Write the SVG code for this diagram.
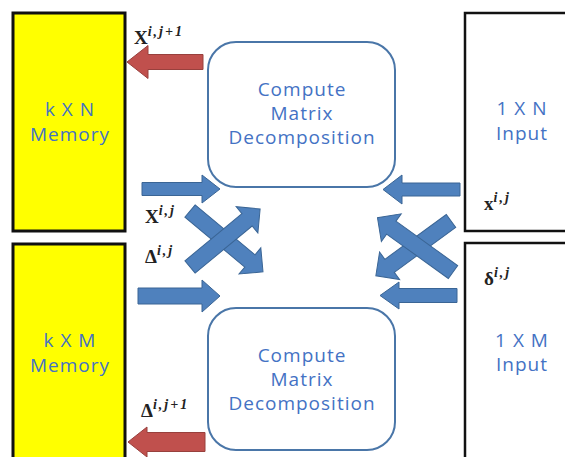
<svg xmlns="http://www.w3.org/2000/svg" width="565" height="457" viewBox="0 0 565 457">
<style>
.mem{fill:#ffff00;stroke:#111;stroke-width:3}
.inp{fill:#fff;stroke:#111;stroke-width:2.5}
.cmp{fill:#fff;stroke:#4a76a8;stroke-width:2}
.t{font-family:"Open Sans","Liberation Sans",sans-serif;font-size:19px;fill:#4472c4;text-anchor:middle;letter-spacing:1px}
.blue{fill:#4f81bd;stroke:#3a6595;stroke-width:1}
.red{fill:#c0504d;stroke:#98403d;stroke-width:1}
.m{font-family:"Liberation Serif",serif;font-weight:bold;font-size:19px;fill:#222}
.s{font-family:"Liberation Serif",serif;font-weight:bold;font-style:italic;font-size:14px;fill:#222;letter-spacing:2px}
</style>
<rect width="565" height="457" fill="#fff"/>
<g id="memN">
<rect class="mem" x="13" y="13" width="112" height="218"/>
<text class="t" x="70" y="116">k X N</text>
<text class="t" x="70" y="141">Memory</text>
</g>
<g id="memM">
<rect class="mem" x="13" y="244" width="112" height="230"/>
<text class="t" x="70" y="347">k X M</text>
<text class="t" x="70" y="372">Memory</text>
</g>
<g id="inN">
<rect class="inp" x="465" y="13" width="120" height="218"/>
<text class="t" x="522" y="115">1 X N</text>
<text class="t" x="522" y="140">Input</text>
</g>
<g id="inM">
<rect class="inp" x="465" y="243" width="120" height="230"/>
<text class="t" x="522" y="347">1 X M</text>
<text class="t" x="522" y="371">Input</text>
</g>
<g id="compTop">
<rect class="cmp" x="208" y="42" width="187" height="145" rx="28"/>
<text class="t" x="302" y="96">Compute</text>
<text class="t" x="302" y="120">Matrix</text>
<text class="t" x="302" y="144">Decomposition</text>
</g>
<g id="compBot">
<rect class="cmp" x="208" y="308" width="187" height="142" rx="28"/>
<text class="t" x="302" y="362">Compute</text>
<text class="t" x="302" y="386">Matrix</text>
<text class="t" x="302" y="410">Decomposition</text>
</g>
<g id="connectors">
<path class="red" d="M203,54.5 H148 V45.5 L127,62 L148,78.5 V69.5 H203 Z"/>
<path class="red" d="M205,432.5 H147 V427 L128,442 L147,457 V451.5 H205 Z"/>
<path class="blue" d="M142,182.5 H202 V175 L220,189 L202,203 V195.5 H142 Z"/>
<path class="blue" d="M138,288 H202 V280 L220,296 L202,312 V304 H138 Z"/>
<path class="blue" d="M460,183 H402 V175 L383,189.5 L402,204 V196 H460 Z"/>
<path class="blue" d="M457,288.5 H399 V282 L380,295.5 L399,309 V302.5 H457 Z"/>
<path class="blue" transform="translate(190,211) rotate(39.8)" d="M0,-8 H78 V-17 L95,0 L78,17 V8 H0 Z"/>
<path class="blue" transform="translate(190,267) rotate(-39.6)" d="M0,-8 H74 V-17 L91,0 L74,17 V8 H0 Z"/>
<path class="blue" transform="translate(451,221) rotate(143.9)" d="M0,-8 H76 V-17 L93,0 L76,17 V8 H0 Z"/>
<path class="blue" transform="translate(453,272) rotate(-144.3)" d="M0,-8 H76 V-17 L93,0 L76,17 V8 H0 Z"/>
</g>
<g id="labels">
<text x="134" y="44"><tspan class="m">X</tspan><tspan class="s" dy="-8">i,j+1</tspan></text>
<text x="145" y="223"><tspan class="m">X</tspan><tspan class="s" dy="-8">i,j</tspan></text>
<text x="145" y="263"><tspan class="m">Δ</tspan><tspan class="s" dy="-8">i,j</tspan></text>
<text x="141" y="417"><tspan class="m">Δ</tspan><tspan class="s" dy="-8">i,j+1</tspan></text>
<text x="484" y="210"><tspan class="m">x</tspan><tspan class="s" dy="-8">i,j</tspan></text>
<text x="484" y="285"><tspan class="m">δ</tspan><tspan class="s" dy="-8">i,j</tspan></text>
</g>
</svg>
